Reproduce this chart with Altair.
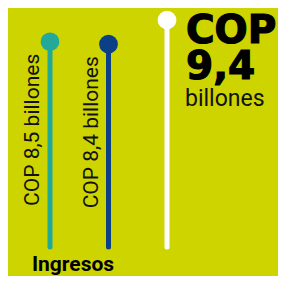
import altair as alt
import pandas as pd

categories = ["A", "B", "C"]
values = [8.5, 8.4, 9.4]
labels = ["COP 8,5 billones", "COP 8,4 billones", "COP 9,4 billones"]
colors = ["#22A99A", "#0B3F86", "#FFFFFF"]
big_lines = ["COP", "9,4"]
big_unit = "billones"
group_label = "Ingresos"

df = pd.DataFrame({"cat": categories, "value": values, "label": labels, "color": colors})

BG = "#CDD400"

x = alt.X("cat:N", scale=alt.Scale(type="point", domain=categories, range=[42, 159], padding=0), axis=None)
yscale = alt.Scale(domain=[0, 9.4], range=[239, 12])
y = alt.Y("value:Q", scale=yscale, axis=None)
col = alt.Color("color:N", scale=None)

base = alt.Chart(df)

rules = base.mark_rule(strokeWidth=5, strokeCap="round").encode(
    x=x, y=y, y2=alt.datum(0), color=col
)
dots = base.mark_circle(size=350, opacity=1).encode(x=x, y=y, color=col)

side = base.transform_filter(alt.datum.cat != "C").mark_text(
    angle=270, align="right", baseline="alphabetic", dx=-12, dy=-11,
    font="Roboto", fontSize=21, color="#111111"
).encode(x=x, y=y, text="label:N")

right = base.transform_filter(alt.datum.cat == "C")
t1 = right.mark_text(align="left", baseline="alphabetic", dx=19, dy=23, lineHeight=36,
                     font="DejaVu Sans", fontWeight="bold", fontSize=39,
                     color="#000000", stroke="#000000", strokeWidth=1.2).encode(
    x=x, y=y, text=alt.value(big_lines))
t3 = right.mark_text(align="left", baseline="alphabetic", dx=18, dy=86,
                     font="Roboto", fontSize=23, color="#111111").encode(
    x=x, y=y, text=alt.value(big_unit))

grp = base.transform_filter(alt.datum.cat == "A").mark_text(
    align="center", baseline="alphabetic", dx=23, dy=24,
    font="Roboto", fontWeight="bold", fontSize=21, color="#000000"
).encode(x=x, y=alt.datum(0, scale=yscale), text=alt.value(group_label))

chart = alt.layer(rules, dots, side, t1, t3, grp).properties(
    width=270, height=268, background=BG, padding=0,
    autosize=alt.AutoSizeParams(type="none")
).configure_view(stroke=None)

chart.save("out.html", embed_options={"renderer": "svg", "actions": False})
